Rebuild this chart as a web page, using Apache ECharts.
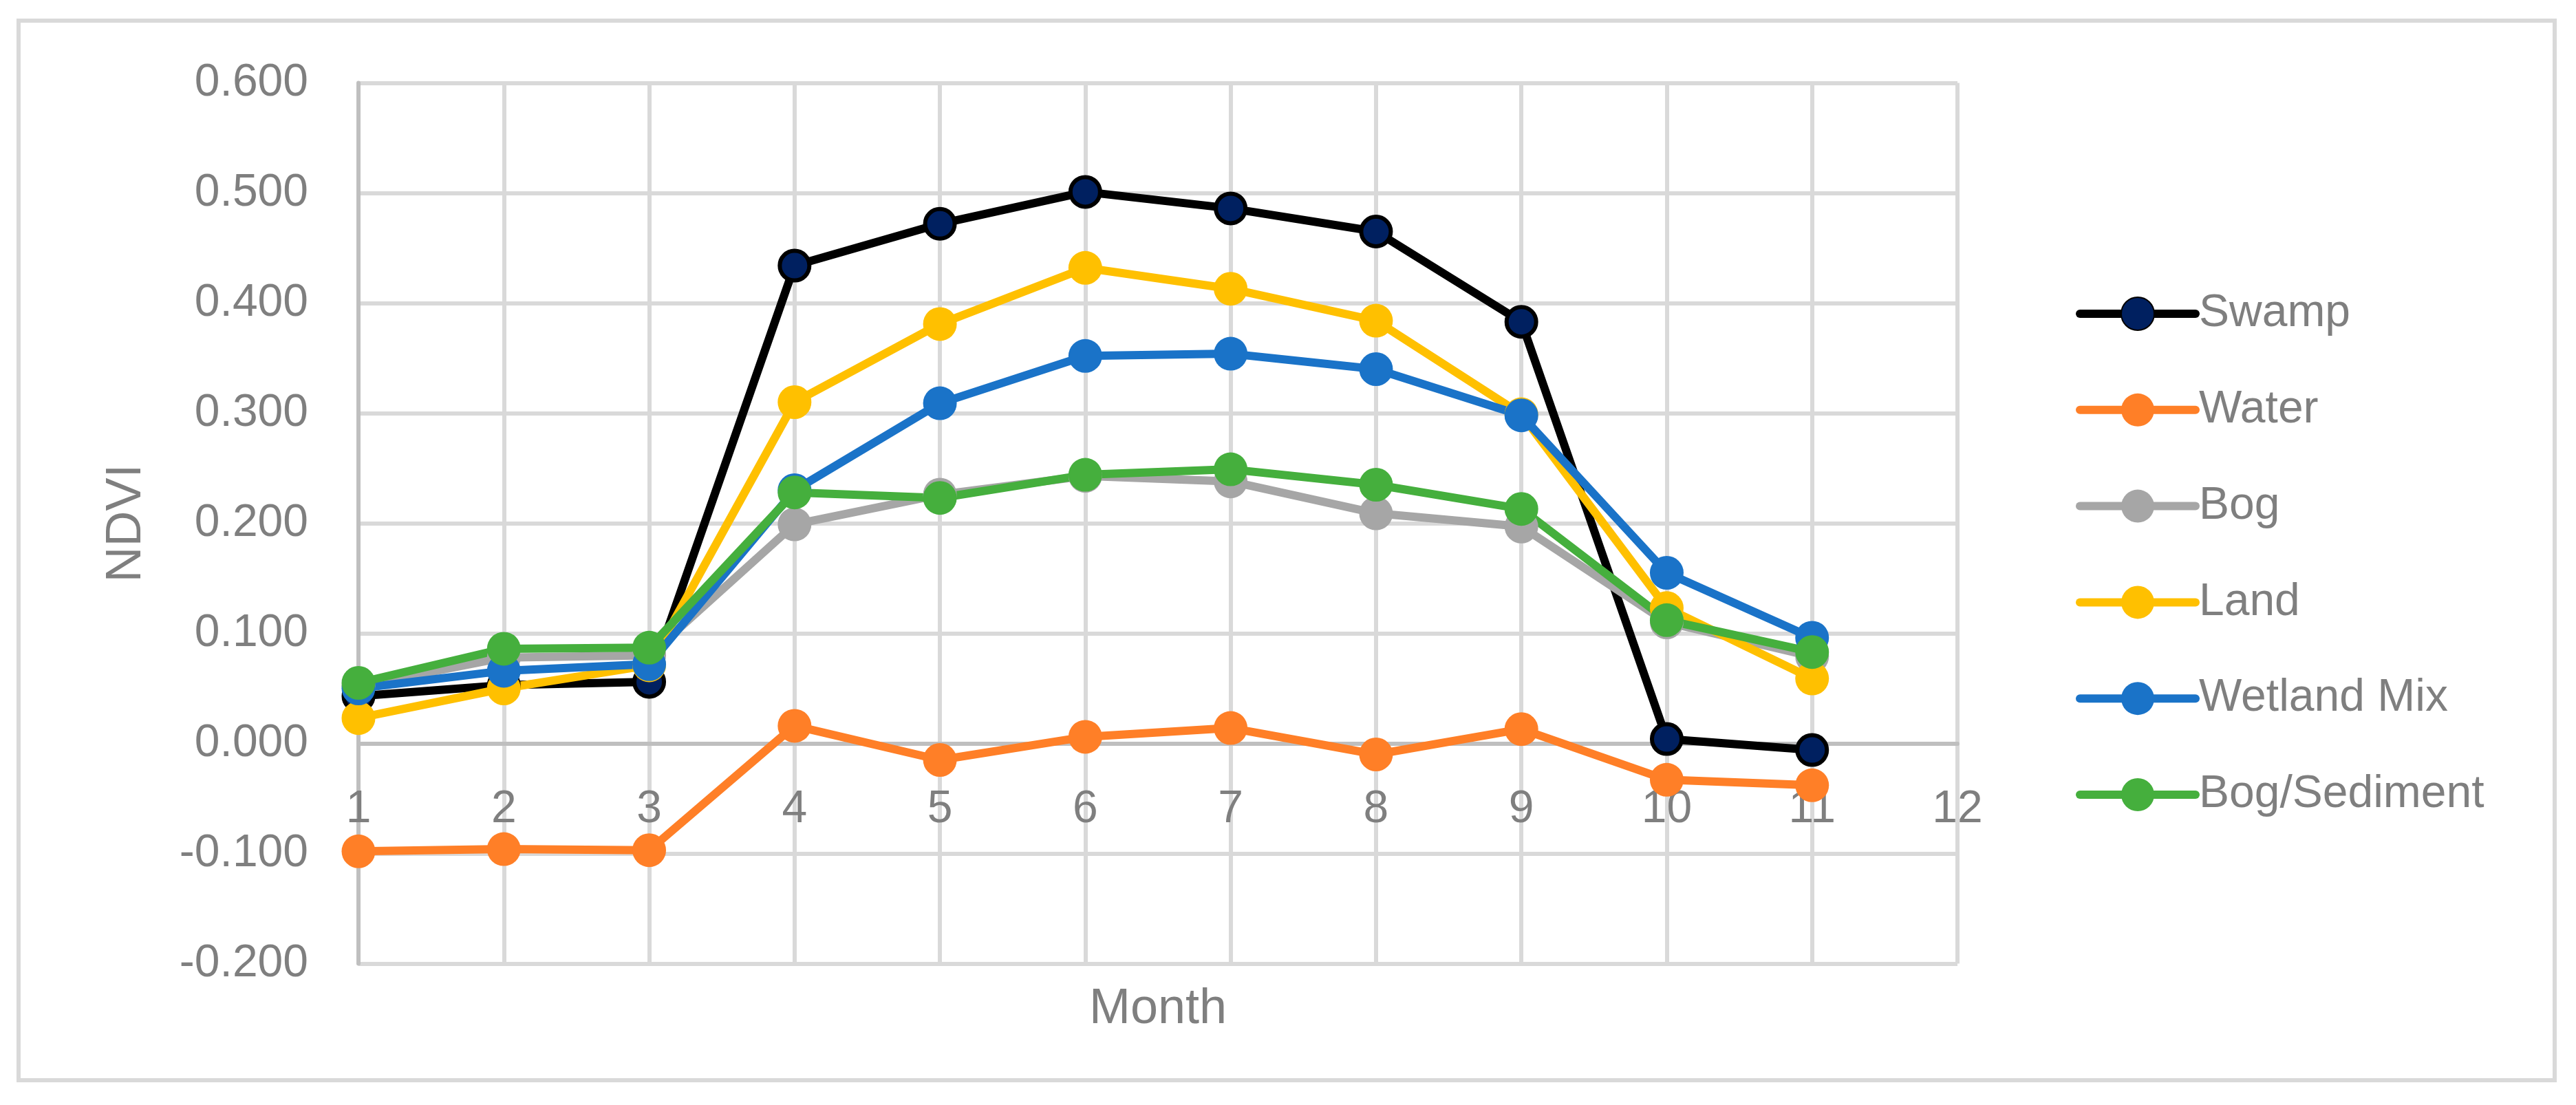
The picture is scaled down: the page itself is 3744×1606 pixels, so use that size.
<!DOCTYPE html>
<html>
<head>
<meta charset="utf-8">
<script src="https://cdn.jsdelivr.net/npm/echarts@6/dist/echarts.min.js"></script>
<style>
html,body{margin:0;padding:0;background:#fff;}
#chart{width:3744px;height:1606px;}
</style>
</head>
<body>
<div id="chart"></div>
<script>
const months = [1, 2, 3, 4, 5, 6, 7, 8, 9, 10, 11];
const swamp = [0.043, 0.053, 0.056, 0.434, 0.472, 0.501, 0.486, 0.465, 0.383, 0.004, -0.006];
const water = [-0.098, -0.096, -0.097, 0.016, -0.015, 0.006, 0.014, -0.010, 0.013, -0.033, -0.038];
const bog = [0.052, 0.078, 0.080, 0.199, 0.226, 0.243, 0.238, 0.209, 0.197, 0.110, 0.079];
const land = [0.023, 0.050, 0.071, 0.310, 0.381, 0.432, 0.413, 0.384, 0.299, 0.123, 0.059];
const wetlandMix = [0.050, 0.066, 0.072, 0.230, 0.309, 0.352, 0.354, 0.340, 0.298, 0.155, 0.096];
const bogSediment = [0.055, 0.086, 0.087, 0.228, 0.223, 0.244, 0.249, 0.235, 0.213, 0.112, 0.083];
const seriesNames = ['Swamp', 'Water', 'Bog', 'Land', 'Wetland Mix', 'Bog/Sediment'];
const xTitle = 'Month';
const yTitle = 'NDVI';

const FONT = 'Liberation Sans';
const TXT = '#7f7f7f';

function pairs(vals) { return months.map((m, i) => [m, vals[i]]); }

function mkSeries(name, vals, lineColor, fill, border, bw) {
  return {
    name: name,
    type: 'line',
    data: pairs(vals),
    symbol: 'circle',
    symbolSize: bw ? 43 : 49,
    showSymbol: true,
    lineStyle: { color: lineColor, width: 12, cap: 'round', join: 'round' },
    itemStyle: { color: fill, borderColor: border, borderWidth: bw },
    emphasis: { disabled: true },
    animation: false
  };
}

const chart = echarts.init(document.getElementById('chart'), null, { renderer: 'canvas' });
chart.setOption({
  backgroundColor: '#ffffff',
  animation: false,
  textStyle: { fontFamily: FONT },
  graphic: [{
    type: 'rect', z: -10, silent: true,
    shape: { x: 27, y: 30, width: 3686, height: 1540 },
    style: { fill: null, stroke: '#d9d9d9', lineWidth: 6 }
  }],
  grid: { left: 521, right: 899, top: 120.5, bottom: 205.5, containLabel: false, outerBoundsMode: 'none' },
  legend: {
    orient: 'vertical',
    left: 3012,
    top: 418,
    itemWidth: 168,
    itemHeight: 60,
    itemGap: 73.8,
    data: seriesNames,
    textStyle: { fontFamily: FONT, fontSize: 66, color: TXT, lineHeight: 60 },
    lineStyle: { width: 'inherit', color: 'inherit', cap: 'round' }
  },
  xAxis: {
    type: 'value', min: 1, max: 12, interval: 1,
    name: xTitle, nameLocation: 'middle', nameGap: 31,
    nameTextStyle: { fontFamily: FONT, fontSize: 72, color: TXT },
    axisLine: { show: true, onZero: true, lineStyle: { color: '#bfbfbf', width: 6 } },
    axisTick: { show: false },
    axisLabel: { fontFamily: FONT, fontSize: 66, color: TXT, margin: -257 },
    splitLine: { show: true, lineStyle: { color: '#d9d9d9', width: 6 } }
  },
  yAxis: {
    type: 'value', min: -0.2, max: 0.6, interval: 0.1,
    name: yTitle, nameLocation: 'middle', nameGap: 301, nameRotate: 90,
    nameTextStyle: { fontFamily: FONT, fontSize: 72, color: TXT },
    axisLine: { show: true, lineStyle: { color: '#bfbfbf', width: 6 } },
    axisTick: { show: false },
    axisLabel: { fontFamily: FONT, fontSize: 66, color: TXT, margin: 73,
      formatter: v => v.toFixed(3) },
    splitLine: { show: true, lineStyle: { color: '#d9d9d9', width: 6 } }
  },
  series: [
    mkSeries(seriesNames[0], swamp, '#000000', '#002060', '#000000', 6),
    mkSeries(seriesNames[1], water, '#FF7F27', '#FF7F27', '#FF7F27', 0),
    mkSeries(seriesNames[2], bog, '#A6A6A6', '#A6A6A6', '#A6A6A6', 0),
    mkSeries(seriesNames[3], land, '#FFC000', '#FFC000', '#FFC000', 0),
    mkSeries(seriesNames[4], wetlandMix, '#1A73C8', '#1A73C8', '#1A73C8', 0),
    mkSeries(seriesNames[5], bogSediment, '#45AF3D', '#45AF3D', '#45AF3D', 0)
  ]
});
</script>
</body>
</html>
